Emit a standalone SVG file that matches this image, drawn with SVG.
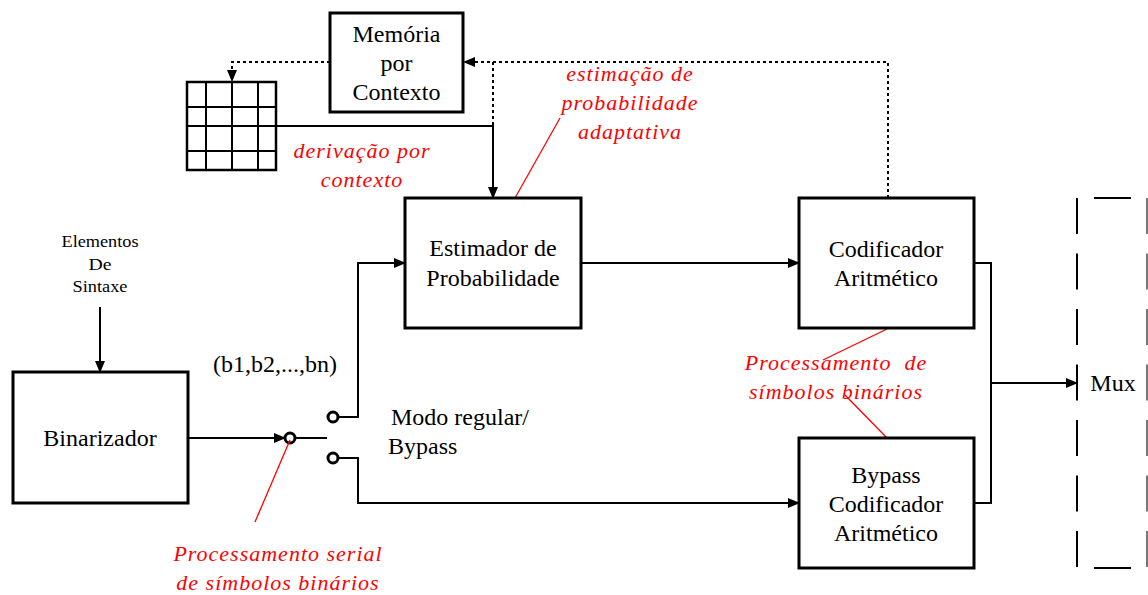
<svg xmlns="http://www.w3.org/2000/svg" width="1148" height="595" viewBox="0 0 1148 595">
<defs>
<marker id="ah" markerWidth="12" markerHeight="10" refX="11" refY="5" orient="auto" markerUnits="userSpaceOnUse">
<path d="M0,0 L12,5 L0,10 Z" fill="#000"/>
</marker>
<style>
.box{fill:#fff;stroke:#000;stroke-width:3}
.t{font-size:24px;fill:#000;text-anchor:middle}
.r{font-size:22px;font-style:italic;fill:#ff0000;text-anchor:middle;letter-spacing:1px}
.c{fill:none;stroke:#000;stroke-width:2}
.d{fill:none;stroke:#000;stroke-width:2;stroke-dasharray:3,3}
.rl{stroke:#ff0000;stroke-width:1.3;fill:none}
.sw{fill:#fff;stroke:#000;stroke-width:3}
</style>
</defs>
<rect width="1148" height="595" fill="#fff"/>

<g id="connectors">
<path class="d" d="M330,62 H232 V73"/>
<path d="M227,70 L232,82 L237,70 Z" fill="#000"/>
<path class="d" d="M888,198 V62 H475"/>
<path d="M475,57 L463,62 L475,67 Z" fill="#000"/>
<path class="d" d="M493,62 V126"/>
<path class="c" d="M276,126 H493 V198" marker-end="url(#ah)"/>
<path class="c" d="M100,307 V372" marker-end="url(#ah)"/>
<path class="c" d="M188,438 H285" marker-end="url(#ah)"/>
<path class="c" d="M295,438 H327"/>
<path class="c" d="M338,417 H358 V263 H405" marker-end="url(#ah)"/>
<path class="c" d="M338,458 H358 V503 H799" marker-end="url(#ah)"/>
<path class="c" d="M581,263 H799" marker-end="url(#ah)"/>
<path class="c" d="M974,263 H991 V503 H974"/>
<path class="c" d="M991,383 H1077" marker-end="url(#ah)"/>
<circle class="sw" cx="290" cy="438" r="5"/>
<circle class="sw" cx="333" cy="417" r="5"/>
<circle class="sw" cx="333" cy="458" r="5"/>
<path class="rl" d="M560,118 L515,198"/>
<path class="rl" d="M887,329 L823,360"/>
<path class="rl" d="M845,395 L887,438"/>
<path class="rl" d="M290,440 L255,522"/>
</g>

<g id="memoria">
<rect class="box" x="330" y="13" width="133" height="99"/>
<text class="t" font-family="Liberation Serif" x="396.5" y="42">Memória</text>
<text class="t" font-family="Liberation Serif" x="396.5" y="71">por</text>
<text class="t" font-family="Liberation Serif" x="396.5" y="100">Contexto</text>
</g>

<g id="tabela">
<rect x="187" y="82" width="89" height="88" fill="#fff" stroke="#000" stroke-width="2.5"/>
<path d="M206,82 V170 M232,82 V170 M258,82 V170 M187,107 H276 M187,126 H276 M187,151 H276" stroke="#000" stroke-width="2"/>
</g>

<g id="estimador">
<rect class="box" x="405" y="198" width="176" height="130"/>
<text class="t" font-family="Liberation Serif" x="493" y="256">Estimador de</text>
<text class="t" font-family="Liberation Serif" x="493" y="286">Probabilidade</text>
</g>

<g id="codificador">
<rect class="box" x="799" y="198" width="175" height="130"/>
<text class="t" font-family="Liberation Serif" x="886" y="257">Codificador</text>
<text class="t" font-family="Liberation Serif" x="886" y="286">Aritmético</text>
</g>

<g id="bypass">
<rect class="box" x="799" y="438" width="175" height="130"/>
<text class="t" font-family="Liberation Serif" x="886" y="483">Bypass</text>
<text class="t" font-family="Liberation Serif" x="886" y="512">Codificador</text>
<text class="t" font-family="Liberation Serif" x="886" y="541">Aritmético</text>
</g>

<g id="binarizador">
<rect class="box" x="13" y="372" width="175" height="131"/>
<text class="t" font-family="Liberation Serif" x="100" y="446">Binarizador</text>
</g>

<g id="elementos">
<text class="t" font-family="Liberation Serif" style="font-size:16px" x="100" y="247" textLength="77" lengthAdjust="spacingAndGlyphs">Elementos</text>
<text class="t" font-family="Liberation Serif" style="font-size:16px" x="100" y="270" textLength="23" lengthAdjust="spacingAndGlyphs">De</text>
<text class="t" font-family="Liberation Serif" style="font-size:16px" x="100" y="292" textLength="55" lengthAdjust="spacingAndGlyphs">Sintaxe</text>
</g>

<g id="mux">
<path d="M1077,198 V567" stroke="#000" stroke-width="2" stroke-dasharray="36,19.5"/>
<path d="M1147,198 V567" stroke="#777" stroke-width="2" stroke-dasharray="36,19.5"/>
<path d="M1094,198 H1131 M1094,568 H1131" stroke="#000" stroke-width="2"/>
<text class="t" font-family="Liberation Serif" x="1113" y="391">Mux</text>
</g>

<g id="labels">
<text class="t" font-family="Liberation Serif" x="275" y="372">(b1,b2,...,bn)</text>
<text class="t" font-family="Liberation Serif" style="text-anchor:start" x="391" y="425">Modo regular/</text>
<text class="t" font-family="Liberation Serif" style="text-anchor:start" x="388" y="454">Bypass</text>
<text class="r" font-family="Liberation Serif" x="630" y="81">estimação de</text>
<text class="r" font-family="Liberation Serif" x="630" y="110">probabilidade</text>
<text class="r" font-family="Liberation Serif" x="630" y="139">adaptativa</text>
<text class="r" font-family="Liberation Serif" x="362" y="158">derivação por</text>
<text class="r" font-family="Liberation Serif" x="362" y="187">contexto</text>
<text class="r" font-family="Liberation Serif" x="836" y="370" xml:space="preserve">Processamento  de</text>
<text class="r" font-family="Liberation Serif" x="836" y="399">símbolos binários</text>
<text class="r" font-family="Liberation Serif" x="278" y="561">Processamento serial</text>
<text class="r" font-family="Liberation Serif" x="278" y="590">de símbolos binários</text>
</g>
</svg>
